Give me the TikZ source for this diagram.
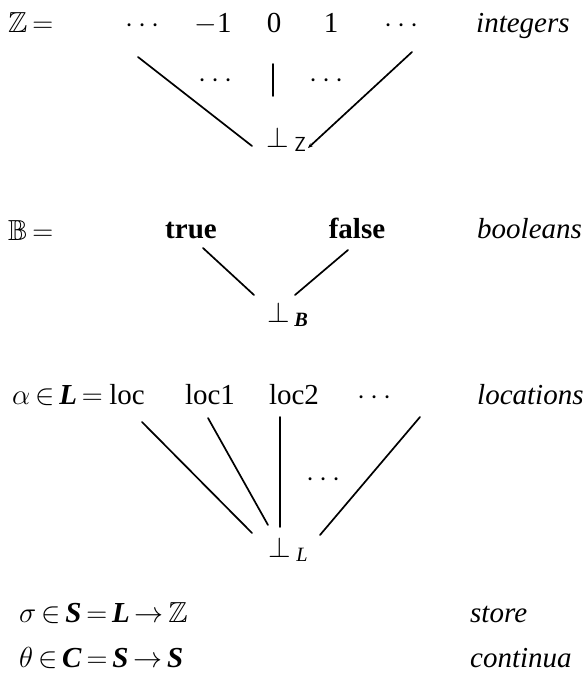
\documentclass[tikz,border=0pt]{standalone}
\usepackage{fix-cm}
\usepackage{amsmath,amssymb}
\usepackage{fontspec}
\setmainfont{Liberation Serif}
\usetikzlibrary{arrows.meta}
\tikzset{
  txt/.style={inner sep=0pt, anchor=base, font=\fontsize{29}{35}\selectfont},
  txtw/.style={txt, anchor=base west},
  lbl/.style={txtw, font=\fontsize{29}{35}\selectfont\itshape},
  edge/.style={line width=1.7pt, line cap=round}
}
\newcommand{\bi}[1]{\textbf{\textit{#1}}}
\begin{document}
\begin{tikzpicture}[x=1pt,y=-1pt]
\useasboundingbox[fill=white] (0,0) rectangle (586,685);
% ---- integers ----
\node[txtw] (zeq) at (8,33) {$\mathbb{Z}$\,$=$};
\node[txt] (cdl) at (145,33) {$\cdots$};
\node[txt] (m1) at (213,33) {$-$1};
\node[txt] (zero) at (274,33) {0};
\node[txt] (one) at (331,33) {1};
\node[txt] (cdr) at (404,33) {$\cdots$};
\node[lbl] (lint) at (476,33) {integers};
\node[txt] (mdl) at (218,88) {$\cdots$};
\node[txt] (mdr) at (329,87) {$\cdots$};
\node[txtw] (botZ) at (266,147) {$\bot_{\mkern5mu\mathsf{Z}}$};
\draw[edge] ([shift={(-7,24)}]cdl.base) -- ([shift={(-14,-1)}]botZ.base west);
\draw[edge] ([shift={(-1,31)}]zero.base) -- ([shift={(7,-51)}]botZ.base west);
\draw[edge,-{Stealth[length=5pt,width=4pt]}] ([shift={(8,19)}]cdr.base) -- ([shift={(42,1)}]botZ.base west);
% ---- booleans ----
\node[txtw] (beq) at (8,240) {$\mathbb{B}$\,$=$};
\node[txt] (tru) at (191,238) {\textbf{true}};
\node[txt] (fal) at (357,238) {\textbf{false}};
\node[lbl] (lbool) at (477,238) {booleans};
\node[txtw] (botB) at (267,322) {$\bot_{\mkern4mu\bi{B}}$};
\draw[edge] ([shift={(12,10)}]tru.base) -- ([shift={(-13,-27)}]botB.base west);
\draw[edge] ([shift={(-9,12)}]fal.base) -- ([shift={(28,-27)}]botB.base west);
% ---- locations ----
\node[txtw] (leq) at (12,404) {$\alpha$\,$\in$\,\bi{L}\,$=$};
\node[txt] (loc0) at (127,404) {loc};
\node[txt] (loc1) at (210,404) {loc1};
\node[txt] (loc2) at (294,404) {loc2};
\node[txt] (cdl3) at (377,404) {$\cdots$};
\node[lbl] (llocs) at (477,404) {locations};
\node[txt] (md3) at (326,486) {$\cdots$};
\node[txtw] (botL) at (268,557) {$\bot_{\mkern5mu\textit{L}}$};
\draw[edge] ([shift={(15,18)}]loc0.base) -- ([shift={(-16,-24)}]botL.base west);
\draw[edge] ([shift={(-2,14)}]loc1.base) -- ([shift={(0,-32)}]botL.base west);
\draw[edge] ([shift={(-14,13)}]loc2.base) -- ([shift={(12,-30)}]botL.base west);
\draw[edge] ([shift={(43,13)}]cdl3.base) -- ([shift={(52,-22)}]botL.base west);
% ---- store / continuations ----
\node[txtw] (sto) at (19,622) {$\sigma$\,$\in$\,\bi{S}\,$=$\,\bi{L}\,$\to$\,$\mathbb{Z}$};
\node[lbl] (lsto) at (470,622) {store};
\node[txtw] (con) at (19,667) {$\theta$\,$\in$\,\bi{C}\,$=$\,\bi{S}\,$\to$\,\bi{S}};
\node[lbl] (lcon) at (470,667) {continua};
\end{tikzpicture}
\end{document}
